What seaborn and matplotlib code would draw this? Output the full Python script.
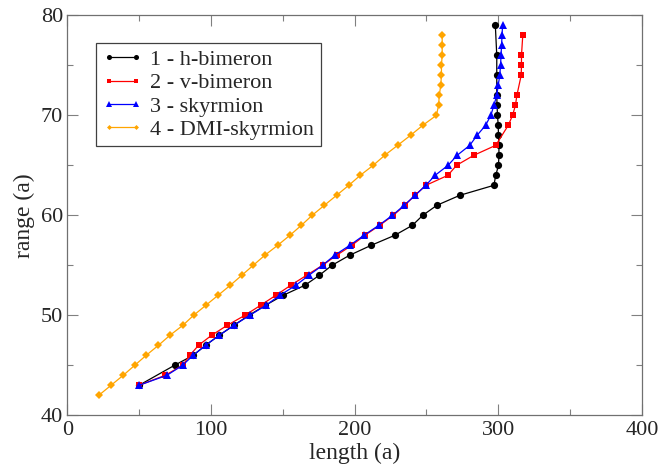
import matplotlib
matplotlib.use("Agg")
import matplotlib.pyplot as plt
import seaborn as sns
import pandas as pd
from matplotlib.ticker import MultipleLocator

# range (a) values and the corresponding lengths (a) for each texture
h_range = [43, 45, 46, 47, 48, 49, 50, 51, 52, 53, 54, 55, 56, 57, 58, 59, 60, 61, 62,
           63, 64, 65, 66, 67, 68, 69, 70, 71, 72, 74, 76, 79]
h_length = [50, 74.7, 87.7, 96.3, 105.8, 116, 126.5, 138, 150.3, 165.4, 175.5, 184.3,
            196.5, 211.6, 228, 240.3, 247.5, 257.3, 273.3, 297, 298.3, 300.2, 300.5,
            300.5, 300.2, 300, 299.5, 299.2, 299, 299, 299, 298]

v_range = [43, 44, 45, 46, 47, 48, 49, 50, 51, 52, 53, 54, 55, 56, 57, 58, 59, 60, 61,
           62, 63, 64, 65, 66, 67, 69, 70, 71, 72, 74, 75, 76, 78]
v_length = [50, 68.2, 80.3, 85.4, 91.4, 100.5, 111.4, 123.7, 134.6, 145.2, 155.6, 166.6,
            177.7, 187.5, 198.1, 207.2, 217.5, 227, 235, 242, 249.7, 265, 271, 283,
            298.3, 307, 310, 312, 313, 316, 316.2, 316.2, 317.1]

sk_range = list(range(43, 80))
sk_length = [50, 69.4, 80.3, 87.7, 96.3, 105.8, 116, 127.1, 138.3, 148, 159.2, 168.2,
             177.7, 186.1, 196.7, 206.5, 216.9, 226.4, 234.5, 242.2, 249.6, 256.1,
             265.1, 271.4, 280.2, 285.3, 291.2, 294.9, 297, 299, 300, 301.1, 301.6,
             302, 302.3, 302.7, 303]

dmi_range = list(range(42, 79))
dmi_length = [22, 30.5, 39, 47, 55, 63.5, 71.5, 80.5, 88, 96.5, 105, 113.5, 121.5,
              129.5, 137.5, 146.5, 155, 163, 170.5, 179, 187.5, 196, 204, 213, 221,
              230, 239, 247.5, 257, 258.5, 259, 260, 260.5, 260.5, 261, 261, 261]

labels = ["1 - h-bimeron", "2 - v-bimeron", "3 - skyrmion", "4 - DMI-skyrmion"]
colors = ["#000000", "#ff0000", "#0000ff", "#ffa500"]
markers = ["o", "s", "^", "D"]
msizes = [5.2, 4.6, 5.2, 3.6]

sns.set_style("ticks")
plt.rcParams["font.family"] = ["Liberation Serif", "DejaVu Serif"]

fig = plt.figure(figsize=(6.59, 4.70), dpi=100)
ax = fig.add_axes([0.102, 0.1164, 0.872, 0.851])

series = [(h_range, h_length), (v_range, v_length), (sk_range, sk_length),
          (dmi_range, dmi_length)]
for (yr, xl), lab, col, mk, ms in zip(series, labels, colors, markers, msizes):
    df = pd.DataFrame({"length": xl, "range": yr})
    sns.lineplot(data=df, x="length", y="range", sort=False, estimator=None,
                 ax=ax, color=col, marker=mk, markersize=ms, linewidth=0.9,
                 markeredgewidth=0, label=lab)

ax.set_xlim(0, 400)
ax.set_ylim(40, 80)
ax.xaxis.set_major_locator(MultipleLocator(100))
ax.xaxis.set_minor_locator(MultipleLocator(50))
ax.yaxis.set_major_locator(MultipleLocator(10))
ax.yaxis.set_minor_locator(MultipleLocator(5))
ax.tick_params(which="both", direction="in", top=True, right=True,
               color="#808080", width=0.8, labelsize=16, pad=3)
ax.tick_params(axis="x", pad=4)
ax.tick_params(which="major", length=8)
ax.tick_params(which="minor", length=4.3)
for sp in ax.spines.values():
    sp.set_color("#707070")
    sp.set_linewidth(0.9)

ax.set_xlabel("length (a)", fontsize=17, labelpad=2)
ax.set_ylabel("range (a)", fontsize=17, labelpad=4)

leg = ax.legend(loc="upper left", bbox_to_anchor=(0.05, 0.931), fontsize=16,
                frameon=True, fancybox=False, edgecolor="#404040", framealpha=1,
                numpoints=2, handlelength=1.8, handletextpad=0.35,
                borderpad=0.3, labelspacing=0.12, borderaxespad=0, markerscale=0.7)
leg.get_frame().set_linewidth(0.9)

fig.savefig("out.png", dpi=100)
